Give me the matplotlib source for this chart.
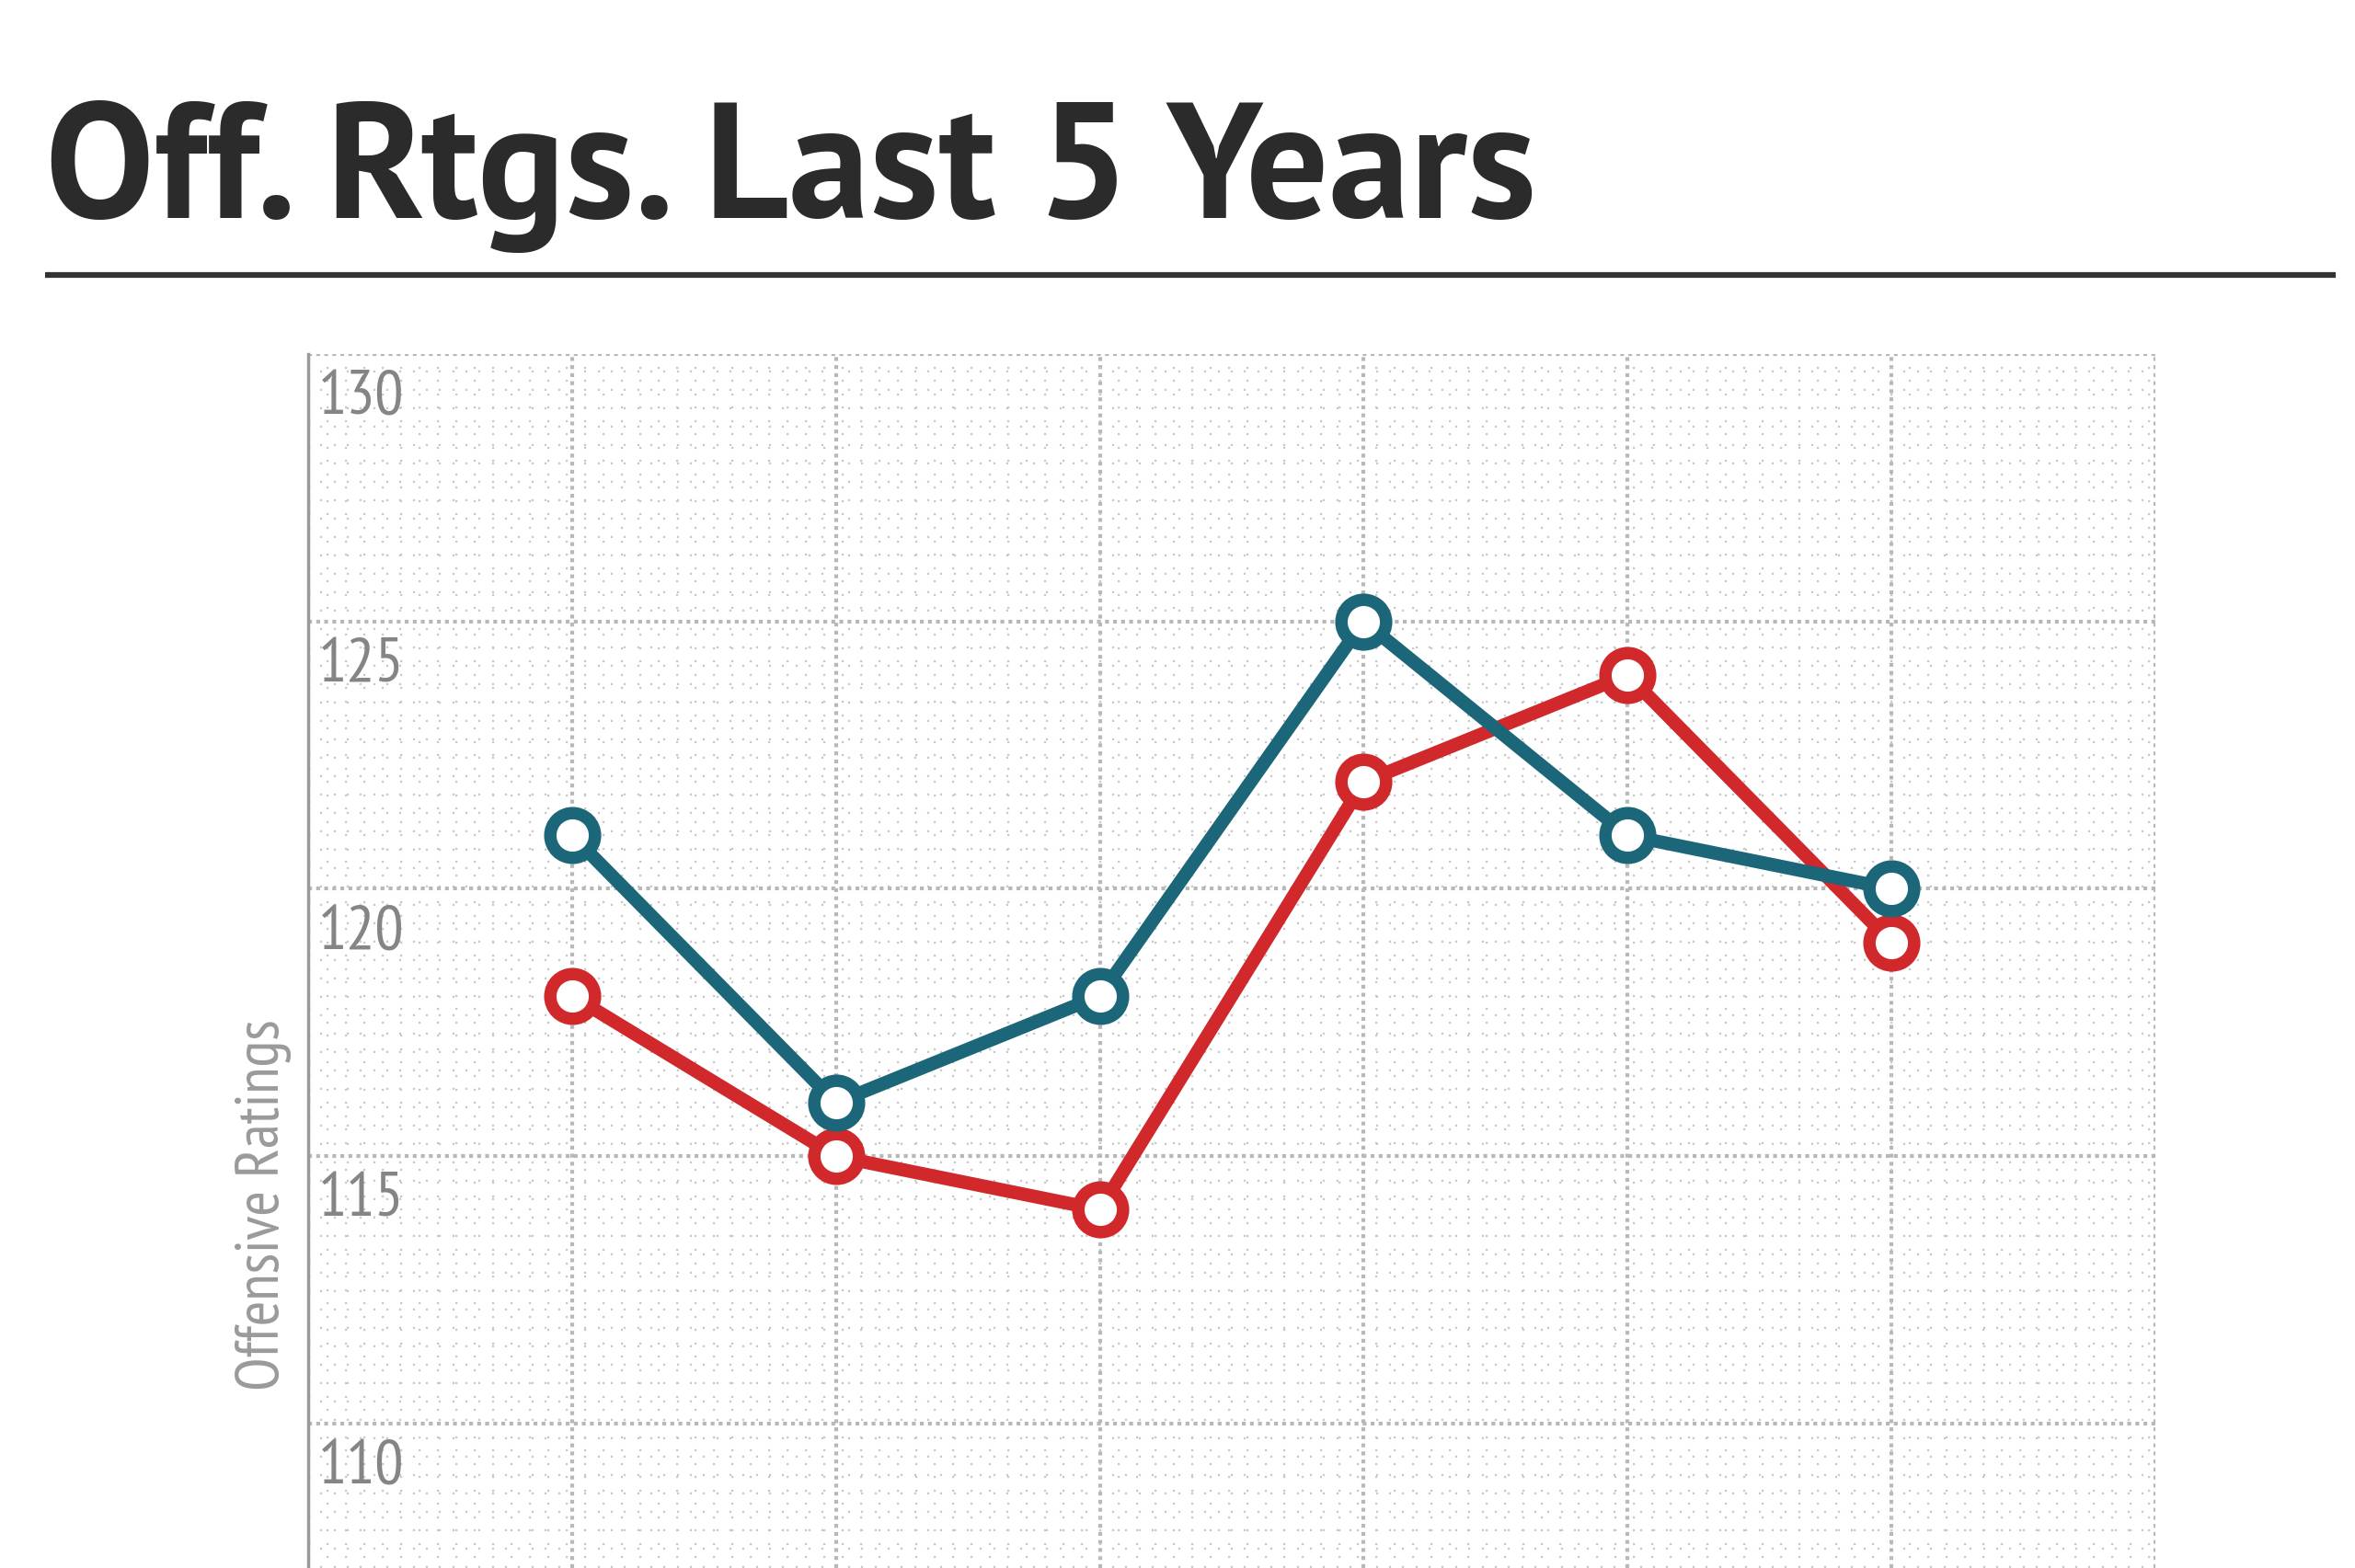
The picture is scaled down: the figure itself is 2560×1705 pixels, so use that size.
import matplotlib.pyplot as plt
from matplotlib.ticker import MultipleLocator

# values
seasons = [1, 2, 3, 4, 5, 6]
team_blue = [121, 116, 118, 125, 121, 120]
team_red = [118, 115, 114, 122, 124, 119]
y_ticks = [110, 115, 120, 125, 130]

blue = '#1c6679'
red = '#d0282b'
narrow = ['PT Sans Narrow', 'DejaVu Sans']

fig = plt.figure(figsize=(25.6, 17.05), dpi=100)
fig.patch.set_facecolor('white')

# title and rule under it
fig.text(49 / 2560, 1 - 237 / 1705, 'Off. Rtgs. Last 5 Years',
         family=['PT Sans', 'DejaVu Sans'], weight='bold',
         fontsize=128, color='#2b2b2b', ha='left', va='baseline')
fig.add_artist(plt.Line2D([49 / 2560, 2539 / 2560], [1 - 299 / 1705] * 2,
                          color='#333333', linewidth=4.5, solid_capstyle='butt'))

ax = fig.add_axes([335 / 2560, 0.0, (2343 - 335) / 2560, (1705 - 385) / 1705])
ax.set_xlim(0, 7)
ax.set_ylim(107.3, 130)

ax.xaxis.set_major_locator(MultipleLocator(1))
ax.xaxis.set_minor_locator(MultipleLocator(1 / 20))
ax.yaxis.set_major_locator(MultipleLocator(5))
ax.yaxis.set_minor_locator(MultipleLocator(0.25))
ax.grid(which='minor', color='#c8c8c8', linestyle=(0, (1, 8)), linewidth=1.6)
ax.grid(which='major', color='#b8b8b8', linestyle=(0, (1, 1.1)), linewidth=3)
ax.set_axisbelow(True)

for side in ['top', 'right', 'bottom']:
    ax.spines[side].set_visible(False)
ax.spines['left'].set_color('#9a9a9a')
ax.spines['left'].set_linewidth(2.5)
ax.tick_params(which='both', length=0, labelleft=False, labelbottom=False)

# tick labels sit inside the plot, just under each gridline
for t in y_ticks:
    ax.annotate(str(t), xy=(0, t), xycoords=('axes fraction', 'data'),
                xytext=(8, -12), textcoords='offset points',
                ha='left', va='top', fontsize=50, color='#858585',
                family=narrow)

ax.set_ylabel('Offensive Ratings', fontsize=48, color='#9a9a9a', family=narrow)
ax.yaxis.set_label_coords(-0.009, 0.299)

ax.plot(seasons, team_red, color=red, linewidth=10.5, marker='o', markersize=35,
        markerfacecolor='white', markeredgecolor=red, markeredgewidth=9.7,
        solid_joinstyle='round', zorder=3)
ax.plot(seasons, team_blue, color=blue, linewidth=10.5, marker='o', markersize=35,
        markerfacecolor='white', markeredgecolor=blue, markeredgewidth=9.7,
        solid_joinstyle='round', zorder=4)

fig.savefig('out.png', dpi=100, facecolor='white')
